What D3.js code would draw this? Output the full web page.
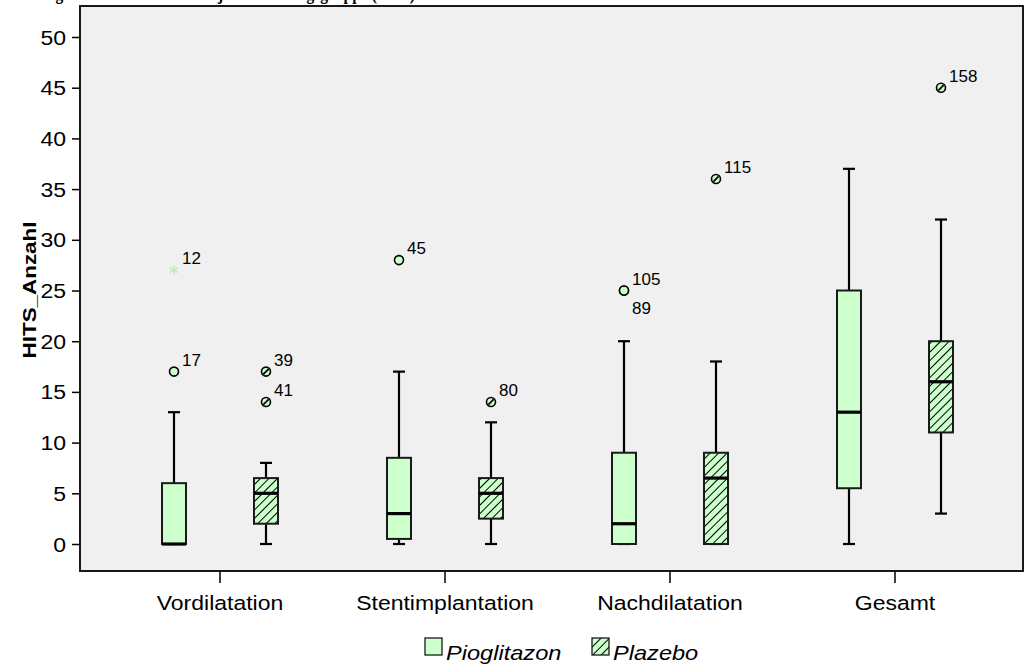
<!DOCTYPE html>
<html>
<head>
<meta charset="utf-8">
<script src="https://cdn.jsdelivr.net/npm/d3@7"></script>
<style>
  html, body { margin: 0; padding: 0; background: #ffffff; }
  svg { display: block; }
  text { font-family: "Liberation Sans", Arial, sans-serif; fill: #000; }
</style>
</head>
<body>
<svg id="chart" width="1026" height="665"></svg>
<script>
// Phases and treatment groups
const categories = ["Vordilatation", "Stentimplantation", "Nachdilatation", "Gesamt"];
const groups = ["Pioglitazon", "Plazebo"];

// Box-plot statistics per phase (whisker ends, quartiles, median)
const pioLow    = [0, 0,   0,   0];
const pioQ1     = [0, 0.5, 0,   5.5];
const pioMedian = [0, 3,   2,   13];
const pioQ3     = [6, 8.5, 9,   25];
const pioHigh   = [13, 17, 20,  37];

const plaLow    = [0,   0,   0,   3];
const plaQ1     = [2,   2.5, 0,   11];
const plaMedian = [5,   5,   6.5, 16];
const plaQ3     = [6.5, 6.5, 9,   20];
const plaHigh   = [8,   12,  18,  32];

// Individual outliers: phase, group, value, case number, kind
const outlierPhase = ["Vordilatation", "Vordilatation", "Vordilatation", "Vordilatation", "Stentimplantation", "Stentimplantation", "Nachdilatation", "Nachdilatation", "Nachdilatation", "Gesamt"];
const outlierGroup = ["Pioglitazon", "Pioglitazon", "Plazebo", "Plazebo", "Pioglitazon", "Plazebo", "Pioglitazon", "Pioglitazon", "Plazebo", "Plazebo"];
const outlierValue = [27, 17, 17, 14, 28, 14, 25, 25, 36, 45];
const outlierCase  = ["12", "17", "39", "41", "45", "80", "105", "89", "115", "158"];
const outlierKind  = ["extreme", "outlier", "outlier", "outlier", "outlier", "outlier", "outlier", "outlier", "outlier", "outlier"];

const yTicks = [0, 5, 10, 15, 20, 25, 30, 35, 40, 45, 50];
const yTitle = "HITS_Anzahl";
const chartTitle = "Vergleich der HITS-Anzahl je Behandlungsgruppe (n=60)";

const stats = {
  Pioglitazon: { low: pioLow, q1: pioQ1, med: pioMedian, q3: pioQ3, high: pioHigh },
  Plazebo:     { low: plaLow, q1: plaQ1, med: plaMedian, q3: plaQ3, high: plaHigh }
};
const boxes = [];
groups.forEach(g => categories.forEach((c, i) => {
  const s = stats[g];
  boxes.push({ cat: c, group: g, low: s.low[i], q1: s.q1[i], med: s.med[i], q3: s.q3[i], high: s.high[i] });
}));
const outliers = outlierValue.map((v, i) => ({
  cat: outlierPhase[i], group: outlierGroup[i], value: v, label: outlierCase[i], kind: outlierKind[i]
}));

// Layout
const frame = { left: 80, top: 6, right: 1023, bottom: 571 };
const STRETCH = 1.18;   // wide sans lettering
const FILL = "#ccffcc";

const svg = d3.select("#chart");
const defs = svg.append("defs");
const hatch = defs.append("pattern")
  .attr("id", "hatch")
  .attr("patternUnits", "userSpaceOnUse")
  .attr("width", 6).attr("height", 6)
  .attr("patternTransform", "rotate(45)");
hatch.append("rect").attr("width", 6).attr("height", 6).attr("fill", FILL);
hatch.append("line").attr("x1", 0).attr("y1", 0).attr("x2", 0).attr("y2", 6)
  .attr("stroke", "#000").attr("stroke-width", 2);

const fillFor = g => g === "Plazebo" ? "url(#hatch)" : FILL;

// Scales
const y = d3.scaleLinear().domain([0, 50]).range([544, 37]);
const x = d3.scaleBand().domain(categories).range([107.5, 1007.5]);
const xg = d3.scaleBand().domain(groups).range([-92, 92]);
const boxW = 24;
const capW = 12;
const cx = d => x(d.cat) + x.bandwidth() / 2 + xg(d.group) + xg.bandwidth() / 2;

// Title (runs off the top edge of the page)
svg.append("text")
  .attr("x", 32).attr("y", 0)
  .attr("textLength", 383).attr("lengthAdjust", "spacingAndGlyphs")
  .style("font-family", "'Liberation Serif', 'Times New Roman', serif")
  .style("font-weight", "bold").style("font-size", "18px")
  .text(chartTitle);

// Plot background
svg.append("rect")
  .attr("x", frame.left).attr("y", frame.top)
  .attr("width", frame.right - frame.left).attr("height", frame.bottom - frame.top)
  .attr("fill", "#f0f0f0");

// Y axis
const yAxis = svg.append("g")
  .attr("transform", `translate(${frame.left},0)`)
  .call(d3.axisLeft(y).tickValues(yTicks).tickSize(8).tickPadding(6).tickFormat(d3.format("d")));
yAxis.select(".domain").remove();
yAxis.selectAll(".tick line").attr("stroke", "#000").attr("stroke-width", 1.5);
yAxis.selectAll(".tick text")
  .attr("transform", `scale(${STRETCH},1)`)
  .attr("x", -14 / STRETCH)
  .attr("dy", "0.36em")
  .style("font-size", "19.5px")
  .style("font-family", "'Liberation Sans', Arial, sans-serif");

// X axis
const xAxis = svg.append("g")
  .attr("transform", `translate(0,${frame.bottom})`)
  .call(d3.axisBottom(x).tickSize(12).tickPadding(0));
xAxis.select(".domain").remove();
xAxis.selectAll(".tick line").attr("stroke", "#000").attr("stroke-width", 1.5);
xAxis.selectAll(".tick text")
  .attr("transform", `scale(${STRETCH},1)`)
  .attr("y", 39).attr("dy", 0)
  .style("font-size", "19.5px")
  .style("font-family", "'Liberation Sans', Arial, sans-serif");

// Y axis title
svg.append("text")
  .attr("transform", `translate(36,290) rotate(-90) scale(${STRETCH},1)`)
  .attr("text-anchor", "middle")
  .style("font-weight", "bold").style("font-size", "19px")
  .text(yTitle);

// Boxes
const bp = svg.append("g");
const gBox = bp.selectAll("g.box").data(boxes).join("g").attr("class", "box");

// whiskers
gBox.append("line")
  .attr("x1", cx).attr("x2", cx)
  .attr("y1", d => y(d.q3)).attr("y2", d => y(d.high))
  .attr("stroke", "#000").attr("stroke-width", 2.2);
gBox.append("line")
  .attr("x1", cx).attr("x2", cx)
  .attr("y1", d => y(d.q1)).attr("y2", d => y(d.low))
  .attr("stroke", "#000").attr("stroke-width", 2.2);
// caps
gBox.append("line")
  .attr("x1", d => cx(d) - capW / 2).attr("x2", d => cx(d) + capW / 2)
  .attr("y1", d => y(d.high)).attr("y2", d => y(d.high))
  .attr("stroke", "#000").attr("stroke-width", 2.2);
gBox.append("line")
  .attr("x1", d => cx(d) - capW / 2).attr("x2", d => cx(d) + capW / 2)
  .attr("y1", d => y(d.low)).attr("y2", d => y(d.low))
  .attr("stroke", "#000").attr("stroke-width", 2.2);
// box
gBox.append("rect")
  .attr("x", d => cx(d) - boxW / 2)
  .attr("y", d => y(d.q3))
  .attr("width", boxW)
  .attr("height", d => y(d.q1) - y(d.q3))
  .attr("fill", d => fillFor(d.group))
  .attr("stroke", "#1a1a1a").attr("stroke-width", 2);
// median
gBox.append("line")
  .attr("x1", d => cx(d) - boxW / 2).attr("x2", d => cx(d) + boxW / 2)
  .attr("y1", d => y(d.med)).attr("y2", d => y(d.med))
  .attr("stroke", "#000").attr("stroke-width", 3.2);

// Outliers
const seen = {};
outliers.forEach(d => {
  const key = d.cat + "|" + d.group + "|" + d.value;
  d.rank = seen[key] || 0;
  seen[key] = d.rank + 1;
});
const gOut = svg.append("g").selectAll("g").data(outliers).join("g")
  .attr("transform", d => `translate(${cx(d)},${y(d.value)})`);

gOut.filter(d => d.kind === "outlier").append("circle")
  .attr("r", 4.5)
  .attr("fill", FILL)
  .attr("stroke", "#000").attr("stroke-width", 1.6);
gOut.filter(d => d.kind === "outlier" && d.group === "Plazebo").append("line")
  .attr("x1", -2.6).attr("y1", 2.6).attr("x2", 2.6).attr("y2", -2.6)
  .attr("stroke", "#000").attr("stroke-width", 1.8);
gOut.filter(d => d.kind === "extreme").append("path")
  .attr("d", d3.symbol().type(d3.symbolAsterisk).size(60))
  .attr("fill", "none")
  .attr("stroke", "#b8ecb8").attr("stroke-width", 1.3);

gOut.append("text")
  .attr("x", 8)
  .attr("y", d => d.rank === 0 ? -6 : 23)
  .style("font-size", "17px")
  .text(d => d.label);

// Frame
svg.append("rect")
  .attr("x", frame.left).attr("y", frame.top)
  .attr("width", frame.right - frame.left).attr("height", frame.bottom - frame.top)
  .attr("fill", "none").attr("stroke", "#000").attr("stroke-width", 1.8);

// Legend
const legX = d3.scalePoint().domain(groups).range([425, 592]);
const leg = svg.append("g").selectAll("g").data(groups).join("g")
  .attr("transform", d => `translate(${legX(d)},638)`);
leg.append("rect")
  .attr("width", 17).attr("height", 17)
  .attr("fill", d => fillFor(d))
  .attr("stroke", "#1a1a1a").attr("stroke-width", 1.3);
leg.append("text")
  .attr("transform", `translate(21,22) scale(${STRETCH},1)`)
  .style("font-style", "italic").style("font-size", "20px")
  .text(d => d);
</script>
</body>
</html>
